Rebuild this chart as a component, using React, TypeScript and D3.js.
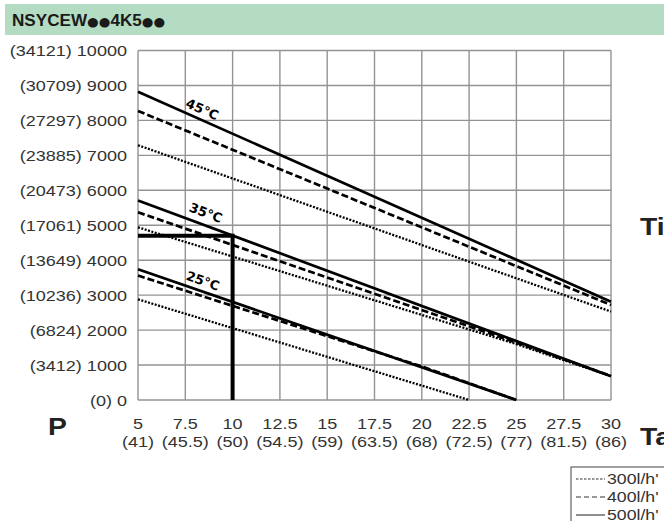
import React from "react";
import * as d3 from "d3";

// Axis ticks
const xTicks = [5, 7.5, 10, 12.5, 15, 17.5, 20, 22.5, 25, 27.5, 30];
const xTickAlt = ["(41)", "(45.5)", "(50)", "(54.5)", "(59)", "(63.5)", "(68)", "(72.5)", "(77)", "(81.5)", "(86)"];
const yTicks = [0, 1000, 2000, 3000, 4000, 5000, 6000, 7000, 8000, 9000, 10000];
const yTickAlt = ["(0)", "(3412)", "(6824)", "(10236)", "(13649)", "(17061)", "(20473)", "(23885)", "(27297)", "(30709)", "(34121)"];

// Curves: [Ta, power] per water temperature and flow rate
const t45Flow500: [number, number][] = [[5, 8820], [30, 2810]];
const t45Flow400: [number, number][] = [[5, 8270], [30, 2720]];
const t45Flow300: [number, number][] = [[5, 7290], [30, 2530]];
const t35Flow500: [number, number][] = [[5, 5710], [30, 680]];
const t35Flow400: [number, number][] = [[5, 5370], [25, 1640], [30, 690]];
const t35Flow300: [number, number][] = [[5, 4940], [25, 1600], [30, 680]];
const t25Flow500: [number, number][] = [[5, 3740], [25, 0]];
const t25Flow400: [number, number][] = [[5, 3560], [20, 960], [25, 0]];
const t25Flow300: [number, number][] = [[5, 2880], [22.5, 0]];

// Reading example at Ta = 10
const markerX = 10;
const markerY = 4700;

const tempLabels = ["45°C", "35°C", "25°C"];
const legendLabels = ["300l/h'", "400l/h'", "500l/h'"];

const SX = 1.18;
const FONT = "'Liberation Sans', Arial, sans-serif";

function Txt(props: {
  x: number; y: number; anchor?: string; size?: number; weight?: string | number;
  fill?: string; children: React.ReactNode;
}) {
  const { x, y, anchor = "start", size = 15, weight = "normal", fill = "#333", children } = props;
  return (
    <text
      transform={`translate(${x},${y}) scale(${SX},1)`}
      textAnchor={anchor}
      fontSize={size}
      fontWeight={weight}
      fontFamily={FONT}
      fill={fill}
    >
      {children}
    </text>
  );
}

export default function App() {
  const W = 664, H = 521;
  const x = d3.scaleLinear().domain([5, 30]).range([138, 611]);
  const y = d3.scaleLinear().domain([0, 10000]).range([400, 50.5]);
  const line = d3.line<[number, number]>().x((d) => x(d[0])).y((d) => y(d[1]));

  const solid = { stroke: "#000", strokeWidth: 2.7, fill: "none" };
  const dashed = { stroke: "#000", strokeWidth: 2.7, fill: "none", strokeDasharray: "7 3" };
  const dotted = { stroke: "#000", strokeWidth: 2.3, fill: "none", strokeDasharray: "2 1.5" };

  const series = [
    { d: t45Flow300, s: dotted }, { d: t45Flow400, s: dashed }, { d: t45Flow500, s: solid },
    { d: t35Flow300, s: dotted }, { d: t35Flow400, s: dashed }, { d: t35Flow500, s: solid },
    { d: t25Flow300, s: dotted }, { d: t25Flow400, s: dashed }, { d: t25Flow500, s: solid },
  ];

  // label anchor: placed above the solid curve, rotated to its slope
  const labelFor = (pts: [number, number][], at: number, lift: number) => {
    const [a, b] = [pts[0], pts[pts.length - 1]];
    const v = a[1] + ((b[1] - a[1]) * (at - a[0])) / (b[0] - a[0]);
    const ang = (Math.atan2(y(b[1]) - y(a[1]), x(b[0]) - x(a[0])) * 180) / Math.PI;
    return { px: x(at), py: y(v) - lift, ang };
  };
  const labels = [
    { t: tempLabels[0], ...labelFor(t45Flow500, 8.3, 6) },
    { t: tempLabels[1], ...labelFor(t35Flow500, 8.5, 8) },
    { t: tempLabels[2], ...labelFor(t25Flow500, 8.35, 6) },
  ];

  const bullet = (k: string) => (
    <tspan key={k} fontFamily="'DejaVu Sans', sans-serif" fontSize={12.5}>●</tspan>
  );

  return (
    <svg width={W} height={H} style={{ position: "absolute", left: 0, top: 0, background: "#fff" }}>
      {/* header band */}
      <rect x={5} y={4} width={W - 5} height={31} fill="#b4dcc2" />
      <text
        transform="translate(12,26) scale(1.07,1)"
        fontSize={16}
        fontWeight="bold"
        fontFamily={FONT}
        fill="#1a1a1a"
      >
        NSYCEW{bullet("a")}{bullet("b")}4K5{bullet("c")}{bullet("d")}
      </text>

      {/* grid */}
      <g stroke="#939393" strokeWidth={1.4}>
        {xTicks.map((t) => (
          <line key={"gx" + t} x1={x(t)} x2={x(t)} y1={y(10000)} y2={y(0)} />
        ))}
        {yTicks.map((t) => (
          <line key={"gy" + t} x1={x(5)} x2={x(30)} y1={y(t)} y2={y(t)} />
        ))}
      </g>

      {/* curves */}
      {series.map((s, i) => (
        <path key={i} d={line(s.d) || ""} {...s.s} />
      ))}

      {/* reading example */}
      <path
        d={line([[5, markerY], [markerX, markerY], [markerX, 0]]) || ""}
        stroke="#000"
        strokeWidth={4}
        fill="none"
      />

      {/* temperature labels */}
      {labels.map((l) => (
        <text
          key={l.t}
          transform={`translate(${l.px},${l.py}) rotate(${l.ang})`}
          textAnchor="middle"
          fontSize={13}
          fontWeight="bold"
          fontFamily="'DejaVu Sans', sans-serif"
          fill="#000"
        >
          {l.t}
        </text>
      ))}

      {/* y tick labels */}
      {yTicks.map((t, i) => (
        <Txt key={"yl" + t} x={127} y={y(t) + 5.5} anchor="end" size={15.3}>
          {`${yTickAlt[i]} ${t}`}
        </Txt>
      ))}

      {/* x tick labels */}
      {xTicks.map((t, i) => (
        <g key={"xl" + t}>
          <Txt x={x(t)} y={429} anchor="middle" size={15.3}>{String(t)}</Txt>
          <Txt x={x(t)} y={447} anchor="middle" size={15.3}>{xTickAlt[i]}</Txt>
        </g>
      ))}

      {/* axis titles */}
      <Txt x={48} y={435} size={24} weight="bold" fill="#222">P</Txt>
      <Txt x={640} y={235} size={24} weight="bold" fill="#222">Ti</Txt>
      <Txt x={640} y={445} size={24} weight="bold" fill="#222">Ta</Txt>

      {/* legend */}
      <rect x={571} y={467} width={120} height={70} fill="#fff" stroke="#444" strokeWidth={1} />
      {legendLabels.map((lab, i) => {
        const cy = 479 + i * 18;
        const dash = i === 0 ? "2.5 1.5" : i === 1 ? "5 3" : undefined;
        return (
          <g key={lab}>
            <line x1={576} x2={605} y1={cy} y2={cy} stroke="#333" strokeWidth={1.1} strokeDasharray={dash} />
            <Txt x={607} y={cy + 5} size={15}>{lab}</Txt>
          </g>
        );
      })}
    </svg>
  );
}
